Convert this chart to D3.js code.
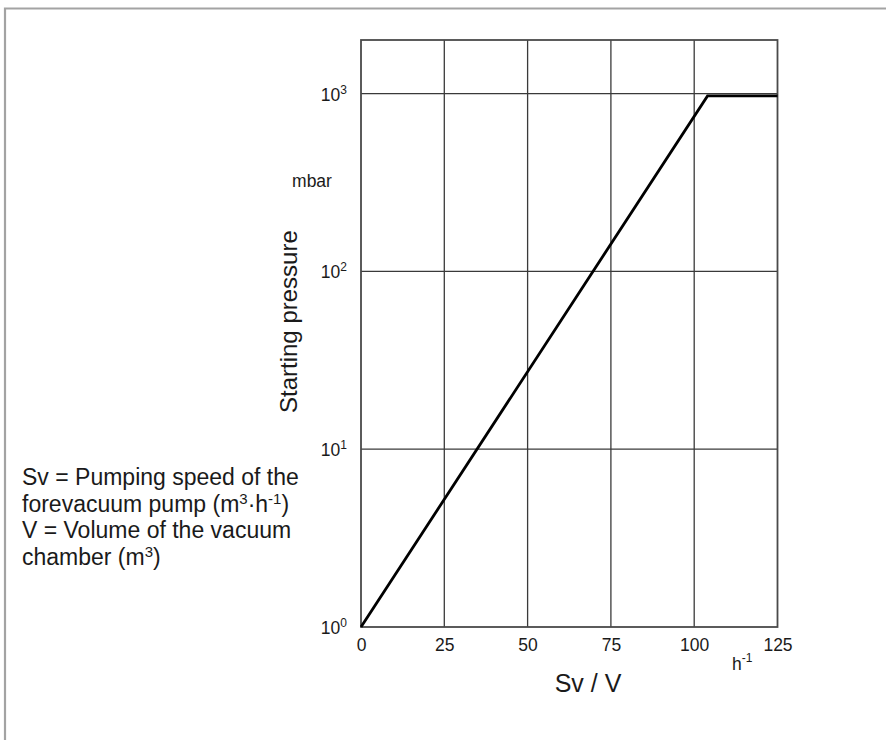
<!DOCTYPE html>
<html>
<head>
<meta charset="utf-8">
<script src="https://cdn.jsdelivr.net/npm/d3@7"></script>
<style>
  html, body { margin: 0; padding: 0; background: #fff; }
  svg { display: block; font-family: "Liberation Sans", Arial, Helvetica, sans-serif; }
</style>
</head>
<body>
<svg id="chart" width="886" height="740"></svg>
<script>
// Abscissa: ratio of pumping speed to chamber volume (h^-1)
const xTicks = [0, 25, 50, 75, 100, 125];
// Ordinate: starting pressure (mbar), logarithmic decades
const yTicks = [1, 10, 100, 1000];
const yExponents = ["0", "1", "2", "3"];
// Starting-pressure curve: exponential rise, then capped near atmosphere
const curveSv = [0, 104, 125];
const curveP = [1, 970, 970];

const legendLines = [
  [{t: "Sv = Pumping speed of the"}],
  [{t: "forevacuum pump (m"}, {t: "3", sup: true}, {t: "·h"}, {t: "-1", sup: true}, {t: ")"}],
  [{t: "V = Volume of the vacuum"}],
  [{t: "chamber (m"}, {t: "3", sup: true}, {t: ")"}]
];

const svg = d3.select("#chart");
const plot = {left: 361, right: 777.5, top: 40, bottom: 627};

const x = d3.scaleLinear().domain([0, 125]).range([plot.left, plot.right]);
const y = d3.scaleLog().domain([1, 2000]).range([plot.bottom, plot.top]);

// Outer panel frame (open towards the right and bottom)
svg.append("path")
  .attr("d", "M5,742 L5,8.5 L888,8.5")
  .attr("fill", "none")
  .attr("stroke", "#a3a3a3")
  .attr("stroke-width", 2.2);

// Grid
const grid = svg.append("g").attr("stroke", "#3a3a3a").attr("stroke-width", 1.3);
grid.selectAll("line.vx").data(xTicks.slice(1, -1)).join("line")
  .attr("x1", d => x(d)).attr("x2", d => x(d))
  .attr("y1", plot.top).attr("y2", plot.bottom);
grid.selectAll("line.hy").data(yTicks.slice(1)).join("line")
  .attr("x1", plot.left).attr("x2", plot.right)
  .attr("y1", d => y(d)).attr("y2", d => y(d));

// Plot frame
svg.append("rect")
  .attr("x", plot.left).attr("y", plot.top)
  .attr("width", plot.right - plot.left).attr("height", plot.bottom - plot.top)
  .attr("fill", "none").attr("stroke", "#4a4a4a").attr("stroke-width", 1.8);

// Curve
const pts = curveSv.map((v, i) => [v, curveP[i]]);
svg.append("path")
  .datum(pts)
  .attr("d", d3.line().x(d => x(d[0])).y(d => y(d[1])))
  .attr("fill", "none")
  .attr("stroke", "#000")
  .attr("stroke-width", 2.8)
  .attr("stroke-linejoin", "miter");

const textColor = "#1a1a1a";

// X tick labels via axis
const xAxis = svg.append("g")
  .attr("transform", `translate(0,${plot.bottom})`)
  .call(d3.axisBottom(x).tickValues(xTicks).tickSize(0).tickPadding(12).tickFormat(d3.format("d")));
xAxis.select(".domain").remove();
xAxis.selectAll("text")
  .attr("fill", textColor)
  .style("font-size", "17.5px")
  .style("font-family", "'Liberation Sans', Arial, sans-serif");

// Y tick labels with superscript exponents
const yLab = svg.append("g").attr("fill", textColor).style("font-size", "17.5px");
yTicks.forEach((v, i) => {
  const t = yLab.append("text")
    .attr("x", 347).attr("y", y(v) + 7)
    .attr("text-anchor", "end");
  t.append("tspan").text("10");
  t.append("tspan").attr("dy", -7).style("font-size", "12px").text(yExponents[i]);
});

// Unit labels
svg.append("text").attr("x", 312).attr("y", 187).attr("text-anchor", "middle")
  .attr("fill", textColor).style("font-size", "17.5px").text("mbar");

const hUnit = svg.append("text").attr("x", 732).attr("y", 670).attr("fill", textColor).style("font-size", "17.5px");
hUnit.append("tspan").text("h");
hUnit.append("tspan").attr("dy", -8).style("font-size", "12px").text("-1");

// Axis titles
svg.append("text")
  .attr("transform", `translate(297,413) rotate(-90)`)
  .attr("text-anchor", "start")
  .attr("fill", textColor).style("font-size", "24px")
  .text("Starting pressure");

svg.append("text")
  .attr("x", 588).attr("y", 692).attr("text-anchor", "middle")
  .attr("fill", textColor).style("font-size", "25px")
  .text("Sv / V");

// Symbol legend
const legend = svg.append("g").attr("fill", textColor).style("font-size", "23px");
legendLines.forEach((parts, i) => {
  const t = legend.append("text").attr("x", 22).attr("y", 485 + i * 26.5);
  parts.forEach((p, j) => {
    const s = t.append("tspan").text(p.t);
    if (p.sup) {
      s.attr("dy", -8).style("font-size", "15px");
    } else if (j > 0 && parts[j - 1].sup) {
      s.attr("dy", 8);
    }
  });
});
</script>
</body>
</html>
